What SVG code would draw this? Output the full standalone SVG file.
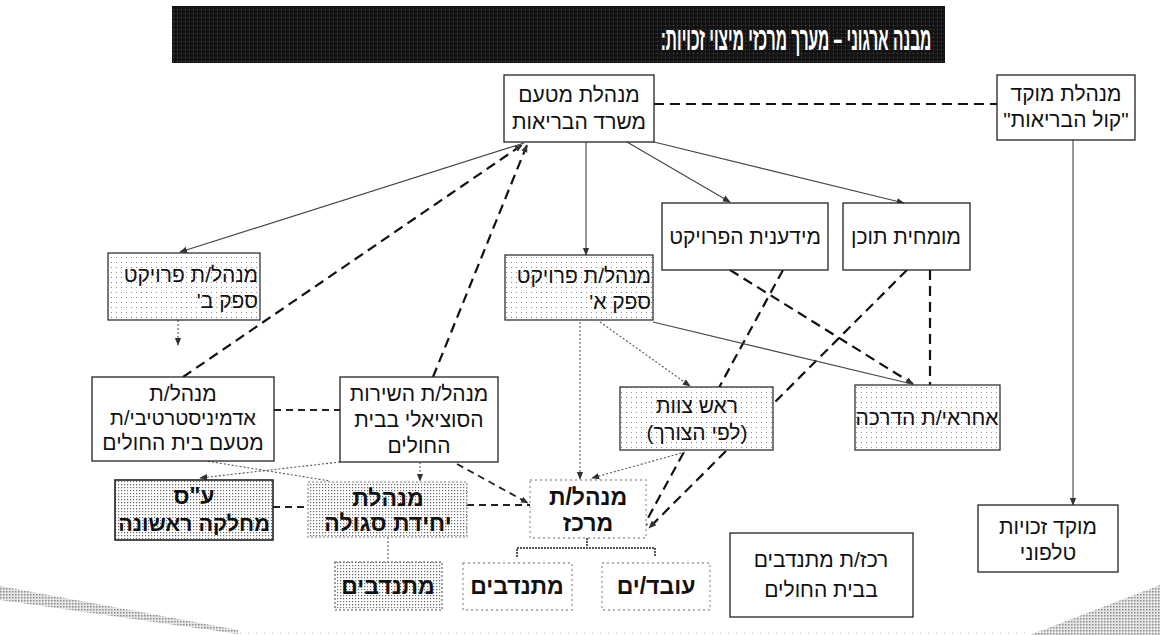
<svg xmlns="http://www.w3.org/2000/svg" width="1160" height="635" viewBox="0 0 1160 635">
<style>
text{font-family:"Liberation Sans","DejaVu Sans",sans-serif;font-size:21px;fill:#111;direction:rtl;unicode-bidi:embed;text-anchor:middle}
.b{font-weight:bold;font-size:23px}
.ttl{fill:#fff;font-weight:bold;font-size:33px}
.box{fill:#fff;stroke:#222;stroke-width:1.3}
.dot{fill:url(#dots);stroke:#333;stroke-width:1.3}
.dot2{fill:url(#dots2);stroke:#222;stroke-width:1.6}
.light{fill:#fff;stroke:#999;stroke-width:1.3;stroke-dasharray:2 3}
.thin{fill:none;stroke:#444;stroke-width:1.1}
.thindot{fill:none;stroke:#555;stroke-width:1.1;stroke-dasharray:2 2}
.dash{fill:none;stroke:#111;stroke-width:2.2;stroke-dasharray:10 6}
.dashm{fill:none;stroke:#222;stroke-width:1.8;stroke-dasharray:7 5}
.arr{marker-end:url(#ah)}
</style>
<defs>
<pattern id="dots" width="5" height="5" patternUnits="userSpaceOnUse"><rect width="5" height="5" fill="#fff"/><rect x="1" y="2" width="1" height="1" fill="#888"/></pattern>
<pattern id="dots2" width="3" height="3" patternUnits="userSpaceOnUse"><rect width="3" height="3" fill="#fff"/><rect x="1" y="1" width="1.2" height="1.2" fill="#666"/></pattern>
<pattern id="grey" width="3" height="3" patternUnits="userSpaceOnUse"><rect width="3" height="3" fill="#e6e6e6"/><rect x="0" y="0" width="1.5" height="1.5" fill="#888"/></pattern>
<pattern id="bar" width="4" height="4" patternUnits="userSpaceOnUse"><rect width="4" height="4" fill="#141414"/><rect x="1" y="1" width="1" height="1" fill="#555"/></pattern>
<marker id="ah" viewBox="0 0 10 10" refX="9" refY="5" markerWidth="8" markerHeight="8" markerUnits="userSpaceOnUse" orient="auto"><path d="M0,1 L10,5 L0,9 z" fill="#333"/></marker>
</defs>
<rect width="1160" height="635" fill="#fff"/>
<g id="title">
<rect x="172" y="6" width="773" height="57" fill="url(#bar)"/>
<text class="ttl" x="0" y="0" transform="translate(796,50) scale(0.47,1)">מבנה ארגוני – מערך מרכזי מיצוי זכויות:</text>
</g>
<g id="connectors">
<path class="dash" d="M654,104 H997"/>
<path class="thin arr" d="M1073,140 V505"/>
<path class="thin arr" d="M586,142 V255"/>
<path class="thin arr" d="M627,142 L730,202"/>
<path class="thin arr" d="M654,142 L904,203"/>
<path class="thin arr" d="M524,143 L180,252"/>
<path class="dash arr" d="M183,377 L522,145"/>
<path class="dash arr" d="M433,377 L527,145"/>
<path class="thindot arr" d="M178,320 V345"/>
<path class="dashm" d="M274,410 H340"/>
<path class="dash arr" d="M783,270 L642,529"/>
<path class="dash arr" d="M730,270 L913,384"/>
<path class="dash" d="M930,270 V385"/>
<path class="dash arr" d="M907,270 L649,528"/>
<path class="thin" d="M653,322 L912,384"/>
<path class="thindot arr" d="M600,322 L690,386"/>
<path class="thindot arr" d="M580,322 V479"/>
<path class="thindot arr" d="M685,452 L592,478"/>
<path class="thindot arr" d="M340,462 L200,478"/>
<path class="thindot" d="M200,460 L330,481"/>
<path class="thindot arr" d="M420,462 V481"/>
<path class="dashm arr" d="M457,464 L528,503"/>
<path class="dashm" d="M467,505 H530"/>
<path class="dashm" d="M273,507 H308"/>
<path class="thindot" d="M388,537 V562"/>
<path fill="none" stroke="#555" stroke-width="2" stroke-dasharray="2 1" d="M587,538 V548 M517,557 V548 H655 V557"/>
</g>
<g id="n1"><rect class="box" x="504" y="75" width="150" height="67"/><text x="579" y="102">מנהלת מטעם</text><text x="579" y="129">משרד הבריאות</text></g>
<g id="n2"><rect class="box" x="997" y="75" width="138" height="65"/><text x="1066" y="101">מנהלת מוקד</text><text x="1066" y="127">"קול הבריאות"</text></g>
<g id="n3"><rect class="box" x="662" y="203" width="166" height="67"/><text x="745" y="244">מידענית הפרויקט</text></g>
<g id="n4"><rect class="box" x="843" y="203" width="127" height="67"/><text x="906" y="244">מומחית תוכן</text></g>
<g id="n5"><rect class="dot" x="108" y="253" width="152" height="67"/><text x="258" y="282" style="text-anchor:start">מנהל/ת פרויקט</text><text x="258" y="308" style="text-anchor:start">ספק ב'</text></g>
<g id="n6"><rect class="dot" x="505" y="255" width="148" height="65"/><text x="651" y="283" style="text-anchor:start">מנהל/ת פרויקט</text><text x="651" y="309" style="text-anchor:start">ספק א'</text></g>
<g id="n7"><rect class="box" x="92" y="377" width="182" height="84"/><text x="183" y="401">מנהל/ת</text><text x="183" y="425" style="font-size:20px">אדמיניסטרטיבי/ת</text><text x="183" y="450">מטעם בית החולים</text></g>
<g id="n8"><rect class="box" x="340" y="377" width="158" height="85"/><text x="419" y="401">מנהל/ת השירות</text><text x="419" y="427">הסוציאלי בבית</text><text x="419" y="453">החולים</text></g>
<g id="n9"><rect class="dot" x="620" y="387" width="153" height="63"/><text x="697" y="413">ראש צוות</text><text x="697" y="440">(לפי הצורך)</text></g>
<g id="n10"><rect class="dot" x="855" y="385" width="145" height="65"/><text x="927" y="425">אחראי/ת הדרכה</text></g>
<g id="n11"><rect class="dot2" x="115" y="480" width="158" height="60"/><text class="b" x="194" y="504">ע"ס</text><text class="b" x="194" y="531" style="font-size:21.5px">מחלקה ראשונה</text></g>
<g id="n12"><rect class="dot2" x="308" y="482" width="159" height="55" style="stroke:#aaa;stroke-dasharray:2 2"/><text class="b" x="388" y="506">מנהלת</text><text class="b" x="388" y="531">יחידת סגולה</text></g>
<g id="n13"><rect class="light" x="530" y="480" width="116" height="58"/><text class="b" x="588" y="505">מנהל/ת</text><text class="b" x="588" y="531">מרכז</text></g>
<g id="n14"><rect class="dot2" x="335" y="562" width="107" height="48" style="stroke:#888;stroke-dasharray:2 2"/><text class="b" x="388" y="594">מתנדבים</text></g>
<g id="n15"><rect class="light" x="463" y="563" width="109" height="47"/><text class="b" x="517" y="594">מתנדבים</text></g>
<g id="n16"><rect class="light" x="602" y="563" width="108" height="47"/><text class="b" x="656" y="594">עובד/ים</text></g>
<g id="n17"><rect class="box" x="730" y="533" width="183" height="84"/><text x="821" y="567">רכז/ת מתנדבים</text><text x="821" y="597">בבית החולים</text></g>
<g id="n18"><rect class="box" x="978" y="505" width="140" height="67"/><text x="1048" y="534">מוקד זכויות</text><text x="1048" y="560">טלפוני</text></g>
<g id="decor">
<polygon points="0,586 238,630 238,634 0,600" fill="url(#grey)"/>
<polygon points="1030,635 1160,585 1160,635" fill="url(#grey)"/>
<path d="M240,633 H1030" stroke="#bbb" stroke-width="1" stroke-dasharray="1 7"/>
</g>
</svg>
